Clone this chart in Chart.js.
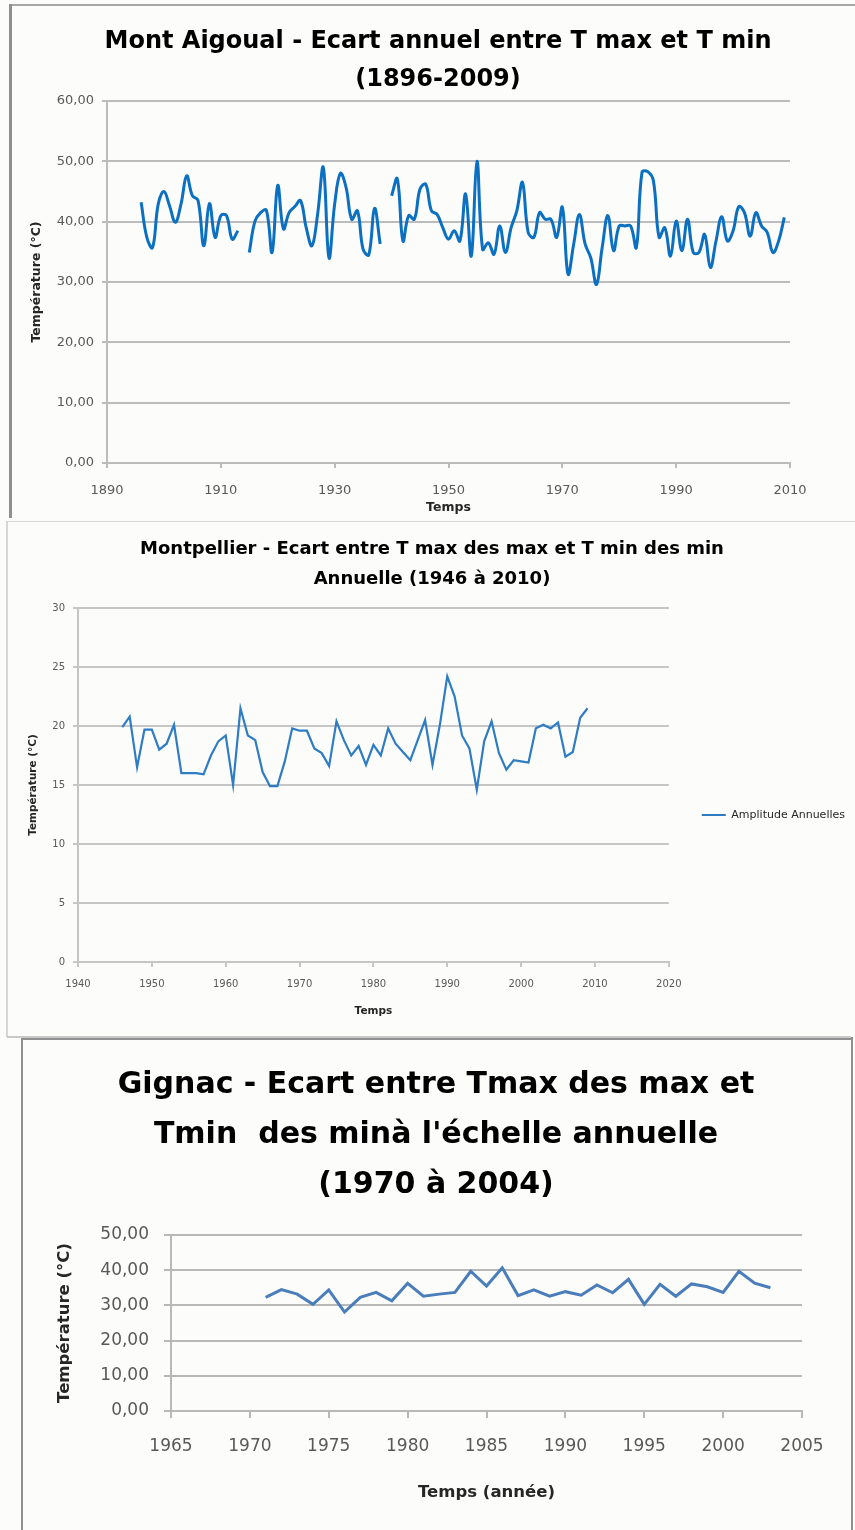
<!DOCTYPE html>
<html lang="fr">
<head>
<meta charset="utf-8">
<title>Ecart entre T max et T min</title>
<script src="https://cdn.jsdelivr.net/npm/chart.js@4.4.1/dist/chart.umd.min.js"></script>
<style>
  html, body { margin: 0; padding: 0; background: #fcfcfa; }
  body { position: relative; width: 855px; height: 1530px; overflow: hidden; }
  canvas, .edge { position: absolute; display: block; }
</style>
</head>
<body>
<!-- panel frames -->
<div class="edge" style="left:10px;top:4px;width:845px;height:2px;background:#a6a6a6"></div>
<div class="edge" style="left:9px;top:4px;width:3px;height:514px;background:#8f8f8f"></div>
<div class="edge" style="left:7px;top:521px;width:848px;height:1px;background:#d6d6d6"></div>
<div class="edge" style="left:6px;top:521px;width:2px;height:516px;background:#d6d6d6"></div>
<div class="edge" style="left:7px;top:1036px;width:844px;height:2px;background:#c9c9c9"></div>
<div class="edge" style="left:22px;top:1038px;width:831px;height:2px;background:#8f8f8f"></div>
<div class="edge" style="left:21px;top:1038px;width:2px;height:492px;background:#8f8f8f"></div>
<div class="edge" style="left:851px;top:1037px;width:2px;height:493px;background:#8f8f8f"></div>

<canvas id="aigoual" width="843" height="510" style="left:12px;top:7px"></canvas>
<canvas id="montpellier" width="846" height="512" style="left:9px;top:523px"></canvas>
<canvas id="gignac" width="828" height="490" style="left:24px;top:1040px"></canvas>

<script>
// Mont Aigoual - yearly gap between T max and T min, 1896-2009 (null = no data)
const aigoualStart = 1896
const aigoualValues = [
  43.2, 37.4, 35.7, 42.9,
  45.0, 42.6, 39.9, 42.9, 47.6, 44.3, 43.5, 36.0, 43.0, 37.4,
  41.0, 41.0, 37.1, 38.5, null, 34.9, 40.1, 41.5, 41.9, 34.9,
  46.0, 38.8, 41.5, 42.5, 43.5, 39.0, 36.0, 41.2, 49.0, 34.0,
  42.9, 48.0, 45.7, 40.4, 41.8, 35.4, 34.5, 42.2, 36.3, null,
  44.3, 47.1, 36.8, 41.0, 40.4, 45.4, 46.2, 41.8, 41.2, 39.0,
  37.1, 38.5, 36.8, 44.6, 34.3, 50.0, 35.4, 36.5, 34.6, 39.3,
  34.9, 39.0, 41.8, 46.5, 38.2, 37.4, 41.5, 40.4, 40.4, 37.4,
  42.4, 31.3, 36.3, 41.2, 36.3, 34.0, 29.6, 35.7, 41.0, 35.2,
  39.3, 39.3, 39.3, 35.7, 48.2, 48.3, 46.8, 37.4, 39.0, 34.3,
  40.1, 35.2, 40.4, 34.9, 34.9, 37.9, 32.4, 36.8, 40.8, 36.8,
  38.5, 42.5, 41.5, 37.6, 41.5, 39.3, 38.2, 34.9, 36.8, 40.7
]
const aigoualXTicks = [1890, 1910, 1930, 1950, 1970, 1990, 2010]
const aigoualYTicks = [0, 10, 20, 30, 40, 50, 60]

// Montpellier - gap between max of T max and min of T min, 1946-2009
const montpellierStart = 1946
const montpellierValues = [
  19.9, 20.8, 16.5, 19.7,
  19.7, 18.0, 18.5, 20.1, 16.0, 16.0, 16.0, 15.9, 17.5, 18.7,
  19.2, 15.0, 21.5, 19.2, 18.8, 16.1, 14.9, 14.9, 17.0, 19.8,
  19.6, 19.6, 18.1, 17.7, 16.6, 20.4, 18.8, 17.5, 18.3, 16.7,
  18.4, 17.5, 19.8, 18.5, 17.8, 17.1, 18.8, 20.5, 16.7, 20.1,
  24.2, 22.5, 19.2, 18.1, 14.6, 18.7, 20.4, 17.7, 16.3, 17.1,
  17.0, 16.9, 19.8, 20.1, 19.8, 20.3, 17.4, 17.8, 20.7, 21.5
]
const montpellierXTicks = [1940, 1950, 1960, 1970, 1980, 1990, 2000, 2010, 2020]
const montpellierYTicks = [0, 5, 10, 15, 20, 25, 30]

// Gignac - gap between max of T max and min of T min, 1971-2003
const gignacStart = 1971
const gignacValues = [
  32.3, 34.5, 33.2, 30.3, 34.4, 28.1, 32.3, 33.7, 31.3,
  36.3, 32.6, 33.2, 33.7, 39.7, 35.5, 40.7, 32.8, 34.4, 32.6,
  33.9, 32.9, 35.8, 33.6, 37.4, 30.3, 36.0, 32.6, 36.1, 35.3,
  33.7, 39.7, 36.3, 35.0
]
const gignacXTicks = [1965, 1970, 1975, 1980, 1985, 1990, 1995, 2000, 2005]
const gignacYTicks = [0, 10, 20, 30, 40, 50]

Chart.defaults.font.family = "'DejaVu Sans', 'Liberation Sans', sans-serif"

const comma2 = v => v.toFixed(2).replace('.', ',')
const yearsFrom = (start, values) => values.map((_, i) => start + i)

function makeChart(id, o) {
  const years = yearsFrom(o.start, o.values)
  const last = arr => arr[arr.length - 1]

  const scales = {
    x: {
      type: 'linear',
      min: o.xTicks[0],
      max: last(o.xTicks),
      afterBuildTicks: s => { s.ticks = o.xTicks.map(value => ({ value })) },
      afterFit: s => { s.height = o.xHeight },
      ticks: {
        callback: v => String(v),
        color: '#595959',
        font: { size: o.xTickSize },
        padding: o.xTickPad,
        maxRotation: 0,
        autoSkip: false
      },
      grid: { drawOnChartArea: false, tickLength: o.tickLen, color: o.gridColor, lineWidth: o.gridWidth },
      border: { color: o.gridColor, width: o.gridWidth },
      title: {
        display: true,
        text: o.xTitle,
        color: '#262626',
        font: { size: o.xTitleSize, weight: 'bold' },
        padding: { top: 0, bottom: o.xTitlePad }
      }
    },
    y: {
      min: o.yTicks[0],
      max: last(o.yTicks),
      afterBuildTicks: s => { s.ticks = o.yTicks.map(value => ({ value })) },
      afterFit: s => { s.width = o.yWidth },
      ticks: {
        callback: o.yFormat,
        color: '#595959',
        font: { size: o.yTickSize },
        padding: o.yTickPad
      },
      grid: { tickLength: o.tickLen, color: o.gridColor, lineWidth: o.gridWidth },
      border: { color: o.gridColor, width: o.gridWidth },
      title: {
        display: true,
        text: 'Température (°C)',
        color: '#262626',
        font: { size: o.yTitleSize, weight: 'bold' },
        padding: { top: o.yTitlePad, bottom: 0 }
      }
    }
  }

  // empty strip on the right so the plot ends where the reference does
  if (o.rightGap) {
    scales.gap = {
      position: 'right',
      grid: { display: false },
      ticks: { display: false },
      border: { display: false },
      afterFit: s => { s.width = o.rightGap }
    }
  }

  return new Chart(document.getElementById(id), {
    type: 'line',
    data: {
      datasets: [{
        label: o.label || '',
        data: years.map((x, i) => ({ x, y: o.values[i] })),
        borderColor: o.color,
        backgroundColor: o.color,
        borderWidth: o.lineWidth,
        tension: o.tension,
        pointRadius: 0,
        spanGaps: false
      }]
    },
    options: {
      responsive: false,
      animation: false,
      layout: { padding: o.padding },
      plugins: {
        title: {
          display: true,
          text: o.title,
          color: '#000',
          font: { size: o.titleSize, weight: 'bold', lineHeight: o.titleLh },
          padding: o.titlePad
        },
        legend: o.legend || { display: false },
        tooltip: { enabled: false }
      },
      scales
    }
  })
}

makeChart('aigoual', {
  start: aigoualStart, values: aigoualValues,
  xTicks: aigoualXTicks, yTicks: aigoualYTicks, yFormat: comma2,
  color: '#0b6fc2', lineWidth: 3, tension: 0.4,
  title: ['Mont Aigoual - Ecart annuel entre T max et T min', '(1896-2009)'],
  titleSize: 24, titleLh: 38 / 24, titlePad: { top: 16, bottom: 2 },
  padding: { left: 9, right: 0 }, rightGap: 65,
  xHeight: 54, xTickSize: 13, xTickPad: 15, xTitle: 'Temps', xTitleSize: 12.5, xTitlePad: 1.5,
  yWidth: 86, yTickSize: 13, yTickPad: 8, yTitleSize: 12.5, yTitlePad: 8.5,
  tickLen: 5, gridColor: '#bcbcbc', gridWidth: 2
})

makeChart('montpellier', {
  start: montpellierStart, values: montpellierValues,
  xTicks: montpellierXTicks, yTicks: montpellierYTicks, yFormat: v => String(v),
  color: '#2e7cc3', lineWidth: 2.2, tension: 0,
  label: 'Amplitude Annuelles',
  title: ['Montpellier - Ecart entre T max des max et T min des min', 'Annuelle (1946 à 2010)'],
  titleSize: 18, titleLh: 30 / 18, titlePad: { top: 11, bottom: 14 },
  padding: { left: 0, right: 0 },
  xHeight: 73, xTickSize: 10, xTickPad: 11, xTitle: 'Temps', xTitleSize: 10.5, xTitlePad: 17.7,
  yWidth: 69, yTickSize: 10, yTickPad: 8, yTitleSize: 10.5, yTitlePad: 17.7,
  tickLen: 5, gridColor: '#c6c6c6', gridWidth: 2,
  legend: {
    display: true,
    position: 'right',
    align: 'center',
    fullSize: false,
    title: { display: true, text: '', font: { size: 10 }, padding: { top: 48, bottom: 0 } },
    labels: {
      usePointStyle: true,
      pointStyle: 'line',
      pointStyleWidth: 24,
      boxHeight: 11,
      padding: 33,
      color: '#262626',
      font: { size: 11 }
    }
  }
})

makeChart('gignac', {
  start: gignacStart, values: gignacValues,
  xTicks: gignacXTicks, yTicks: gignacYTicks, yFormat: comma2,
  color: '#4a7ebb', lineWidth: 3, tension: 0,
  title: ['Gignac - Ecart entre Tmax des max et', 'Tmin  des minà l\'échelle annuelle', '(1970 à 2004)'],
  titleSize: 30, titleLh: 50 / 30, titlePad: { top: 20, bottom: 25 },
  padding: { left: 0, right: 4 }, rightGap: 46,
  xHeight: 119, xTickSize: 17, xTickPad: 18, xTitle: 'Temps (année)', xTitleSize: 16.5, xTitlePad: 27.1,
  yWidth: 147, yTickSize: 17, yTickPad: 15, yTitleSize: 16.5, yTitlePad: 31.1,
  tickLen: 7, gridColor: '#b8b8b8', gridWidth: 2
})
</script>
</body>
</html>
